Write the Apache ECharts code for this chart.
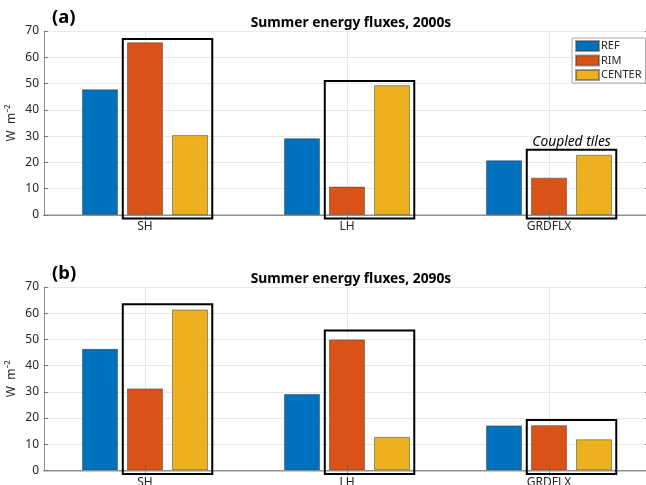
<!DOCTYPE html>
<html>
<head>
<meta charset="utf-8">
<style>
  html, body { margin: 0; padding: 0; background: #fff; }
  #chart { width: 646px; height: 485px; }
</style>
<script src="https://cdn.jsdelivr.net/npm/echarts@6/dist/echarts.min.js"></script>
</head>
<body>
<div id="chart"></div>
<script>
// Summer energy flux components (W m-2) for the two decades
const categories = ['SH', 'LH', 'GRDFLX'];
const seriesNames = ['REF', 'RIM', 'CENTER'];
const seriesColors = ['#0072BD', '#D95319', '#EDB120'];

const ref2000s = [47.8, 29.2, 20.8];
const rim2000s = [65.7, 10.8, 14.2];
const center2000s = [30.4, 49.4, 22.9];

const ref2090s = [46.4, 29.2, 17.2];
const rim2090s = [31.3, 50.0, 17.3];
const center2090s = [61.4, 12.8, 11.9];

// Outline boxes around the coupled-tile bars (top edge, W m-2)
const boxTop2000s = [67.0, 51.0, 24.8];
const boxTop2090s = [63.4, 53.4, 19.3];
const boxNote2000s = ['', '', 'Coupled tiles'];
const boxNote2090s = ['', '', ''];

const yTicks = [0, 10, 20, 30, 40, 50, 60, 70];
const panelTitles = ['Summer energy fluxes, 2000s', 'Summer energy fluxes, 2090s'];
const panelTags = ['(a)', '(b)'];

const FONT = 'Noto Sans';
const TXT = '#262626';
const AXIS = '#8f8f8f';
const GRID = '#e8e8e8';

const grids = [
  { left: 44, top: 31, width: 606, height: 184, outerBoundsMode: 'none', containLabel: false },
  { left: 44, top: 287, width: 606, height: 183.5, outerBoundsMode: 'none', containLabel: false }
];

const xAxes = [], yAxes = [], series = [], titles = [];

grids.forEach((g, i) => {
  // bottom category axis: labels, line and ticks drawn above the bars
  xAxes.push({
    type: 'category', gridIndex: i, data: categories, position: 'bottom',
    axisLine: { show: true, lineStyle: { color: AXIS, width: 1 } },
    axisTick: { show: true, inside: true, alignWithLabel: true, length: 5, lineStyle: { color: '#666' } },
    axisLabel: { color: TXT, fontFamily: FONT, fontSize: 12, margin: 6 },
    splitLine: { show: false },
    z: 10
  });
  // top frame axis, carries the vertical grid lines beneath the bars
  xAxes.push({
    type: 'category', gridIndex: i, data: categories, position: 'top',
    axisLine: { show: true, lineStyle: { color: '#c8c8c8', width: 2 } },
    axisTick: { show: true, inside: true, alignWithLabel: true, length: 5, lineStyle: { color: '#999' } },
    axisLabel: { show: false },
    splitLine: { show: true, alignWithLabel: true, lineStyle: { color: GRID } }
  });
  // left value axis
  yAxes.push({
    type: 'value', gridIndex: i, min: yTicks[0], max: yTicks[yTicks.length - 1], interval: 10,
    axisLine: { show: true, lineStyle: { color: AXIS, width: 1 } },
    axisTick: { show: true, inside: true, length: 4, lineStyle: { color: '#777' } },
    axisLabel: { color: TXT, fontFamily: FONT, fontSize: 12, margin: 5 },
    splitLine: { show: false },
    name: 'W  m\u207B\u00B2', nameLocation: 'middle', nameGap: 26, nameRotate: 90,
    nameMoveOverlap: false,
    nameTextStyle: { color: TXT, fontFamily: FONT, fontSize: 12 },
    z: 10
  });
  // right frame axis, carries the horizontal grid lines
  yAxes.push({
    type: 'value', gridIndex: i, min: yTicks[0], max: yTicks[yTicks.length - 1], interval: 10,
    position: 'right',
    axisLine: { show: true, lineStyle: { color: AXIS } },
    axisTick: { show: true, inside: true, length: 5, lineStyle: { color: '#777' } },
    axisLabel: { show: false },
    splitLine: { show: true, lineStyle: { color: GRID } }
  });

  titles.push({
    text: panelTitles[i], left: g.left + g.width / 2 - 1, top: g.top - 20, textAlign: 'center',
    textStyle: { fontFamily: FONT, fontWeight: 'bold', fontSize: 13.8, color: '#000' }
  });
  titles.push({
    text: panelTags[i], left: 47, top: g.top - 28,
    textStyle: { fontFamily: FONT, fontWeight: 'bold', fontSize: 18.5, color: '#000' }
  });
});

const panelData = [
  [ref2000s, rim2000s, center2000s],
  [ref2090s, rim2090s, center2090s]
];
const boxTops = [boxTop2000s, boxTop2090s];
const boxNotes = [boxNote2000s, boxNote2090s];

panelData.forEach((vals, p) => {
  vals.forEach((arr, k) => {
    series.push({
      type: 'bar', name: seriesNames[k],
      xAxisIndex: p * 2, yAxisIndex: p * 2,
      data: arr, barWidth: 36, barGap: '25%',
      itemStyle: { color: seriesColors[k], borderColor: 'rgba(60,60,60,0.5)', borderWidth: 1 },
      z: 2
    });
  });
  // black outline boxes around the RIM and CENTER bars
  series.push({
    type: 'custom', name: 'box' + p,
    xAxisIndex: p * 2, yAxisIndex: p * 2,
    data: categories.map((c, j) => [j, boxTops[p][j]]),
    z: 20, silent: true, clip: false,
    renderItem: function (params, api) {
      const top = api.coord([api.value(0), api.value(1)]);
      const base = api.coord([api.value(0), 0]);
      const band = api.size([1, 0])[0];
      const x0 = top[0] - 0.11 * band;
      const x1 = top[0] + 0.333 * band;
      const y1 = base[1] + 3.5;
      const children = [{
        type: 'rect',
        shape: { x: x0, y: top[1], width: x1 - x0, height: y1 - top[1] },
        style: { fill: 'none', stroke: '#000', lineWidth: 2 }
      }];
      const note = boxNotes[p][params.dataIndex];
      if (note) {
        children.push({
          type: 'text',
          style: {
            text: note, x: (x0 + x1) / 2, y: top[1] - 1,
            textAlign: 'center', textVerticalAlign: 'bottom',
            font: 'italic 13.8px "Noto Sans"', fill: '#000'
          }
        });
      }
      return { type: 'group', children: children };
    }
  });
});

const chart = echarts.init(document.getElementById('chart'), null, { renderer: 'canvas' });
chart.setOption({
  animation: false,
  backgroundColor: '#fff',
  title: titles,
  grid: grids,
  xAxis: xAxes,
  yAxis: yAxes,
  legend: {
    data: seriesNames, orient: 'vertical', left: 572, top: 38,
    itemWidth: 23, itemHeight: 10, itemGap: 2.5,
    icon: 'rect', padding: [2, 4, 2, 3],
    borderColor: '#a8a8a8', borderWidth: 1, backgroundColor: '#fff',
    textStyle: { fontFamily: FONT, fontSize: 11, color: TXT, padding: [0, 0, 0, -3], lineHeight: 11 },
    selectedMode: false
  },
  series: series
});
</script>
</body>
</html>
